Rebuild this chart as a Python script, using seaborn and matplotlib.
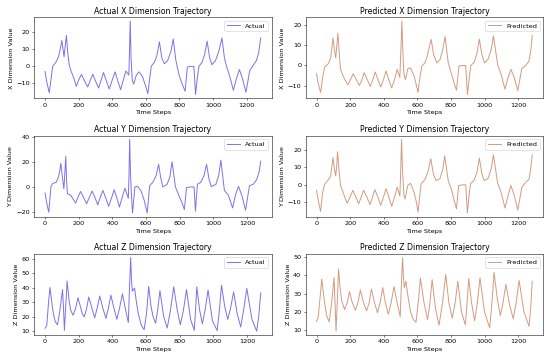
import matplotlib
matplotlib.use("Agg")
import matplotlib.pyplot as plt
import pandas as pd
import seaborn as sns

# Trajectory values as (time step, value)
actual_x = [(0, -3), (10, -9), (25, -15.5), (35, -8), (45, 0), (65, 2.5), (80, 5.5), (90, 10),
            (100, 15.2), (107, 10), (113, 5.7), (120, 12), (127, 18.2), (135, 8), (143, 1.5),
            (153, -2.3), (172, -7), (186, -11.8), (200, -8), (217, -4.7), (235, -8.5), (254, -12.1),
            (270, -8), (284, -4.6), (300, -8.5), (319, -12.7), (334, -8), (348, -3.6), (365, -8.5),
            (382, -13.3), (400, -8), (417, -3.2), (433, -8.5), (450, -13.7), (466, -8), (481, -2.7),
            (499, -5.1), (503, 10), (507, 26.6), (512, 5), (519, -8), (528, -10.4), (544, -5),
            (560, -3.2), (580, -6), (597, -11), (612, -16), (622, -8), (632, 0), (651, 2.5), (665, 6),
            (681, 14.4), (695, 5), (710, 1.5), (730, 3.4), (750, 9), (763, 16.1), (779, 3.4),
            (798, -5.1), (815, -10), (834, -14.6), (847, -0.4), (860, 0), (886, 0), (891, -8),
            (896, -16.5), (905, -8), (916, 0), (935, 2.5), (950, 7), (965, 14.8), (980, 5), (994, 1),
            (1015, 3.4), (1035, 9), (1053, 16.7), (1068, 5), (1082, -0.4), (1100, -6), (1121, -14),
            (1140, -7), (1157, -1.9), (1175, -7), (1196, -15.2), (1219, -2.3), (1239, 0.6),
            (1258, 3.4), (1272, 8), (1284, 16.7)]

pred_x = [(0, -4), (10, -9), (24, -13.3), (39, -4.3), (49, -0.6), (69, 0.8), (84, 3.7), (98, 13.5),
          (106, 8), (114, 3.7), (120, 9), (127, 15.9), (135, 6), (143, -1.9), (157, -5), (172, -7.5),
          (186, -9.5), (202, -7), (218, -4), (236, -7), (255, -9.8), (270, -7), (284, -3.5),
          (302, -7), (320, -10.3), (335, -7), (349, -3.2), (366, -7), (382, -10.6), (398, -7),
          (414, -2.7), (430, -7), (447, -11.1), (464, -7), (480, -1.9), (496, -5.9), (502, 8),
          (508, 21.9), (513, 8), (520, -4.3), (529, -7), (543, -1.6), (559, -1.1), (580, -5),
          (595, -10), (604, -13.3), (615, -6), (627, -0.3), (645, 1.3), (660, 5), (682, 12.9),
          (698, 5), (716, 1.3), (735, 2.9), (752, 8), (765, 14.3), (784, 1.3), (804, -4.3),
          (820, -9), (833, -12.2), (848, -0.3), (870, 0), (888, 0), (893, -7), (898, -14.3),
          (908, -7), (918, 0), (938, 1.5), (955, 6), (969, 13), (985, 5), (1000, 1.3), (1020, 2.9),
          (1040, 8), (1053, 14.6), (1078, 0.5), (1098, -4.3), (1122, -11.7), (1140, -6),
          (1157, -1.9), (1177, -6), (1198, -12.4), (1222, -1.5), (1245, 0), (1264, 2), (1275, 7),
          (1284, 14.8)]

actual_y = [(0, -4.9), (10, -13), (22, -20.3), (35, 0), (45, 2.8), (65, 3.6), (75, 6), (85, 11),
            (94, 19), (103, 8), (112, -1.5), (118, 12), (123, 24.6), (128, 5), (133, -5.4),
            (153, -6.7), (168, -10), (182, -13), (196, -8), (211, -3.6), (229, -8.5), (247, -13.6),
            (263, -8.5), (280, -3.3), (297, -8.5), (313, -14.4), (328, -8.5), (344, -2.8),
            (361, -9), (378, -15.6), (395, -9), (411, -2.3), (427, -9), (442, -16.2), (458, -8.5),
            (475, -1), (495, -9.2), (499, 10), (503, 38.2), (508, 10), (514, -8), (520, -20.8),
            (534, 0), (550, 0.5), (570, -3), (590, -11), (607, -20.8), (622, 1), (640, 3.6),
            (660, 9), (675, 18.2), (688, 7), (700, 0), (725, 2), (742, 8), (755, 20.3), (775, 0),
            (798, -7.7), (815, -13), (828, -18.2), (841, -0.5), (865, 0), (886, 0), (890, -10),
            (894, -19.5), (900, -8), (906, 2.3), (925, 3.6), (945, 9), (960, 18.2), (975, 6),
            (988, 0.3), (1015, 2), (1032, 9), (1045, 21.5), (1066, -2.8), (1090, -6.7),
            (1115, -16.9), (1133, -6), (1150, 0.5), (1170, -7), (1192, -18.7), (1215, 1),
            (1239, 2.3), (1258, 6), (1272, 12), (1282, 20.8)]

pred_y = [(0, -3.1), (10, -9), (24, -15), (37, -4), (49, 0.5), (69, 2.7), (84, 5.1), (98, 15.5),
          (106, 9), (114, 5.1), (120, 11), (125, 18.8), (134, 8), (143, -0.4), (157, -4),
          (170, -7.5), (182, -10.4), (199, -7), (216, -3.1), (234, -7), (251, -10.8), (265, -7),
          (280, -3.1), (300, -7), (318, -11.3), (333, -7), (347, -2.7), (365, -7), (382, -11.7),
          (398, -7), (414, -2.2), (430, -7), (447, -12.2), (464, -7), (480, -1.3), (496, -6.4),
          (501, 8), (506, 25.8), (512, 8), (520, -5.9), (527, -8), (543, -0.4), (559, 0.9),
          (580, -4), (595, -10), (604, -15.5), (622, 0.5), (645, 3), (662, 7), (680, 14.8),
          (696, 6), (712, 2.4), (735, 3.5), (752, 9), (763, 16.5), (784, 2.4), (804, -3),
          (820, -9), (833, -13.7), (846, -0.4), (870, 0), (888, 0), (893, -8), (898, -15.9),
          (908, -6), (916, 0.5), (938, 2.7), (955, 7), (969, 15.2), (985, 6), (998, 2.4),
          (1020, 3.5), (1040, 9), (1053, 17), (1078, 1), (1098, -4), (1122, -13.2), (1140, -6),
          (1157, -0.4), (1177, -6), (1198, -14.4), (1222, -1.5), (1245, 1.5), (1264, 3),
          (1275, 9), (1284, 17)]

actual_z = [(0, 11.8), (10, 13.6), (20, 28.7), (29, 40.2), (37, 33), (45, 25.3), (53, 20),
            (61, 16.4), (74, 14.2), (88, 24.2), (104, 38.7), (110, 25), (115, 10.4), (122, 25),
            (131, 44.7), (137, 38), (143, 30.9), (153, 24.2), (166, 20.9), (180, 25), (196, 33.1),
            (210, 27), (221, 22), (233, 19.8), (246, 25), (260, 33.6), (278, 26), (295, 19.1),
            (310, 26), (325, 34.2), (343, 26), (362, 18.7), (377, 26), (391, 34.9), (409, 26),
            (427, 18), (443, 26), (460, 35.8), (478, 25), (495, 15.8), (502, 40), (509, 60.9),
            (514, 45), (519, 37.6), (525, 38.7), (532, 39.8), (543, 30), (554, 22), (573, 13.6),
            (589, 10.9), (603, 22), (616, 40.9), (630, 27), (642, 20), (657, 15.3), (670, 25),
            (683, 38), (705, 20), (726, 12), (745, 24), (765, 40.7), (785, 25), (804, 14.2),
            (822, 24), (841, 38.7), (865, 18), (887, 10.4), (895, 25), (902, 40.7), (918, 25),
            (935, 14.9), (952, 25), (969, 38.4), (995, 17), (1023, 10.2), (1036, 24), (1049, 41.8),
            (1068, 27), (1086, 18), (1103, 26), (1121, 37.1), (1142, 22), (1163, 12.7), (1181, 25),
            (1199, 39.6), (1230, 18), (1258, 9.8), (1270, 20), (1282, 36.4)]

pred_z = [(0, 14.9), (10, 17.5), (20, 27), (31, 38), (45, 27), (60, 18), (75, 14.7), (90, 25),
          (104, 38.9), (110, 25), (116, 9.6), (123, 25), (131, 43.5), (140, 33), (150, 26),
          (167, 21.4), (182, 25), (196, 31.2), (213, 25), (231, 21), (246, 25), (261, 31.9),
          (280, 25), (298, 20.7), (313, 25), (327, 32.6), (345, 25), (363, 19.6), (378, 25),
          (394, 33.3), (410, 25), (427, 18.8), (444, 25), (461, 33.9), (480, 25), (498, 17.5),
          (505, 35), (512, 49.6), (517, 40), (522, 33.3), (532, 36.8), (545, 28), (560, 20),
          (576, 16), (592, 14.4), (605, 25), (618, 38.6), (640, 25), (661, 15.8), (675, 25),
          (688, 37.7), (708, 22), (729, 12.8), (750, 25), (769, 40.4), (788, 25), (808, 16.7),
          (825, 25), (841, 36.8), (863, 20), (886, 13), (896, 25), (906, 38.2), (923, 25),
          (941, 15.3), (957, 25), (973, 38.6), (1000, 20), (1031, 11.4), (1044, 25), (1057, 41.6),
          (1075, 28), (1094, 18.1), (1110, 25), (1127, 35.1), (1149, 24), (1171, 16.3),
          (1188, 25), (1206, 37.2), (1235, 20), (1265, 12.3), (1275, 22), (1284, 36.8)]

dims = ['X', 'Y', 'Z']
actual = [actual_x, actual_y, actual_z]
predicted = [pred_x, pred_y, pred_z]

ACTUAL_COLOR = '#7a72ea'
PRED_COLOR = '#d49a80'

W = 11.8
fig, axes = plt.subplots(3, 2, figsize=(W, W * 362 / 550))

for i, dim in enumerate(dims):
    df_a = pd.DataFrame(actual[i], columns=['t', 'v'])
    df_p = pd.DataFrame(predicted[i], columns=['t', 'v'])

    ax = axes[i, 0]
    sns.lineplot(data=df_a, x='t', y='v', ax=ax, color=ACTUAL_COLOR, label='Actual', linewidth=1.5)
    ax.set_title(f'Actual {dim} Dimension Trajectory')
    ax.set_xlabel('Time Steps')
    ax.set_ylabel(f'{dim} Dimension Value')
    ax.legend(loc='upper right')

    ax = axes[i, 1]
    sns.lineplot(data=df_p, x='t', y='v', ax=ax, color=PRED_COLOR, label='Predicted', linewidth=1.5)
    ax.set_title(f'Predicted {dim} Dimension Trajectory')
    ax.set_xlabel('Time Steps')
    ax.set_ylabel(f'{dim} Dimension Value')
    ax.legend(loc='upper right')

plt.tight_layout()
plt.savefig('out.png', dpi=550 / W)
plt.close()
